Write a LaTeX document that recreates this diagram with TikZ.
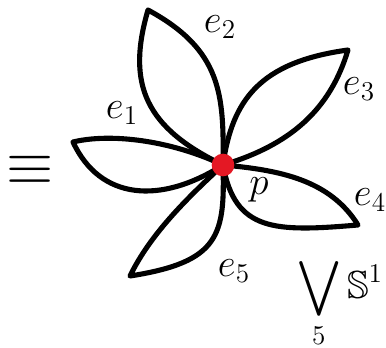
\documentclass[tikz,border=0pt]{standalone}
\usepackage{amsmath}
\usepackage{amssymb}
\usepackage{xcolor}
\usepackage{tikz}
\definecolor{dotred}{RGB}{228,24,36}

\begin{document}
\begin{tikzpicture}[x=0.53pt, y=-0.53pt,
  petal/.style={draw, line width=2.7pt, line join=round},
  vertex/.style={circle, fill=dotred, inner sep=0pt, minimum size=12pt},
  lbl/.style={font=\huge, inner sep=0pt}]
  \useasboundingbox (0,0) rectangle (386,348);
  \coordinate (o) at (223,165);
  \coordinate (tip1) at (73,142);
  \coordinate (tip2) at (148,10);
  \coordinate (tip3) at (348,50);
  \coordinate (tip4) at (358,225);
  \coordinate (tip5) at (130,276);
  \draw[petal] (o) .. controls (170,140) and (110,133) .. (tip1)
                   .. controls (100,200) and (160,205) .. (o);
  \draw[petal] (o) .. controls (224,95) and (222,50) .. (tip2)
                   .. controls (126,85) and (146,128) .. (o);
  \draw[petal] (o) .. controls (232,100) and (260,62) .. (tip3)
                   .. controls (330,110) and (290,145) .. (o);
  \draw[petal] (o) .. controls (280,170) and (330,180) .. (tip4)
                   .. controls (275,232) and (235,232) .. (o);
  \draw[petal] (o) .. controls (225,235) and (220,262) .. (tip5)
                   .. controls (150,235) and (185,200) .. (o);
  \node[vertex] (p) at (o) {};
  \node[lbl] (plbl) at (259,190) {$p$};
  \node[lbl] (e1) at (122,113) {$e_1$};
  \node[lbl] (e2) at (220,27) {$e_2$};
  \node[lbl] (e3) at (359,89) {$e_3$};
  \node[lbl] (e4) at (370,200) {$e_4$};
  \node[lbl] (e5) at (234,271) {$e_5$};
  \node[lbl] (eq) at (30,170) {\scalebox{1.55}{$\equiv$}};
  \node[lbl] (wedge) at (340,303) {$\displaystyle\bigvee_5 \mathbb{S}^1$};
\end{tikzpicture}
\end{document}
